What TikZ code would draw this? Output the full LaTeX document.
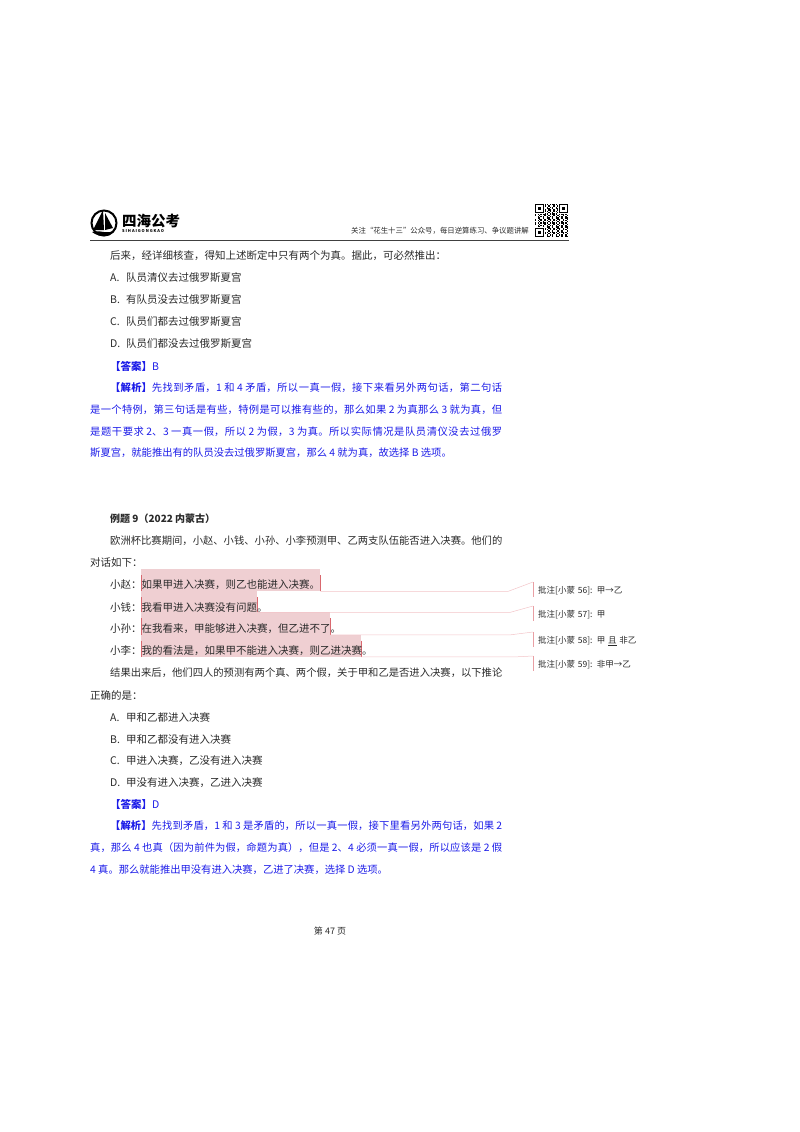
\documentclass[tikz,border=0pt]{standalone}
\usepackage{fontspec}
\usepackage{xcolor}
\setmainfont{Noto Sans CJK SC}
\XeTeXlinebreaklocale "zh"
\XeTeXlinebreakskip=0pt plus 3pt minus 0.4pt
\definecolor{answerblue}{HTML}{1C1CE8}
\definecolor{bodygray}{HTML}{2A2A2A}
\definecolor{markpink}{HTML}{EFCFD2}
\definecolor{markred}{HTML}{D9686F}
\definecolor{leadpink}{HTML}{F3C4C8}
\newcommand{\optlabel}[1]{\makebox[16pt][l]{#1.}}

\begin{document}
\begin{tikzpicture}
		[
			x=1pt,y=-1pt,
			every node/.style={inner sep=0pt,text=bodygray},
			bodyline/.style={anchor=west,yshift=-1pt,font=\fontsize{10.5}{10.5}\selectfont},
			fullline/.style={bodyline,text width=396pt,font=\fontsize{10.32}{10.5}\selectfont},
			answerpar/.style={anchor=north west,text width=412pt,align=justify,text=answerblue,
					font=\fontsize{10.3}{21.8}\selectfont},
			markbox/.style={anchor=north west,fill=markpink,minimum height=#1},
			notebox/.style={anchor=north west,minimum height=15pt,text width=110pt,
					font=\fontsize{8.5}{8.5}\selectfont,text height=8pt,text depth=1pt,xshift=5pt},
			leadline/.style={leadpink,line width=0.5pt},
			endbar/.style={markred,line width=0.6pt}]
		\useasboundingbox (0,0) rectangle (800,1132);

		% header
		\node[circle,draw=black,line width=2pt,minimum size=25pt] (Logo) at (104,223) {};
		\fill[black] (103,210) -- (104,230) -- (93,230) -- cycle;
		\fill[black] (105,213) -- (113,228) -- (105,230) -- cycle;
		\fill[black] (92,232) .. controls (100,229) and (108,236) .. (116,229)
		.. controls (110,238) and (100,238) .. (92,232) -- cycle;
		\node[anchor=west,font=\fontsize{14.5}{14.5}\selectfont\bfseries,text=black] (LogoText) at (122,221) {四海公考};
		\node[anchor=west,font=\fontsize{4}{4}\selectfont\bfseries,text=black] (LogoSub) at (122,231) {S I H A I G O N G K A O};
		\node[anchor=west,font=\fontsize{7.4}{8}\selectfont] (HeadText) at (351,231) {关注“花生十三”公众号，每日逆算练习、争议题讲解};
		\draw[black!75,line width=0.8pt] (90,240) -- (569,240);

		% qr block
		\foreach \i in {0,...,24}
			\foreach \j in {0,...,24}
				{
					\edef\qrsum{\the\numexpr \i*\i*\j+7*\j*\j*\i+3*\i+5*\j+\i*\j\relax}
					\ifnum\numexpr\qrsum-7*(\qrsum/7)\relax<1
						\fill[black] (535+\i*1.32,204+\j*1.32) rectangle ++(1.32,1.32);
					\fi
				}
		\foreach \qx/\qy in {535/204,558.8/204,535/227.8}
			{
				\fill[white] (\qx-0.6,\qy-0.6) rectangle ++(10.4,10.4);
				\draw[black,line width=1.3pt] (\qx+0.6,\qy+0.6) rectangle ++(8,8);
				\fill[black] (\qx+2.8,\qy+2.8) rectangle ++(3.6,3.6);
			}

		% highlighted sentences
		\foreach \name/\w/\y/\h in {A/179/569/22,B/116/591/21,C/189/612/22.5,D/220/634.5/22}
			{
				\node[markbox=\h pt,minimum width=\w pt] (mark\name) at (141,\y) {};
				\draw[endbar] ([yshift=-6pt]mark\name.north west) -- (mark\name.south west);
				\draw[endbar] ([yshift=-6pt]mark\name.north east) -- (mark\name.south east);
			}

		% body lines
		\foreach \x/\y/\t in {
				110/255/{后来，经详细核查，得知上述断定中只有两个为真。据此，可必然推出：},
				110/277/{\optlabel{A}队员清仪去过俄罗斯夏宫},
				110/299/{\optlabel{B}有队员没去过俄罗斯夏宫},
				110/321/{\optlabel{C}队员们都去过俄罗斯夏宫},
				110/343/{\optlabel{D}队员们都没去过俄罗斯夏宫},
				110/518/{\fontsize{10}{10}\selectfont\bfseries 例题 9（2022 内蒙古）},
				90/562/{对话如下：},
				110/584/{小赵：如果甲进入决赛，则乙也能进入决赛。},
				110/606/{小钱：我看甲进入决赛没有问题。},
				110/628/{小孙：在我看来，甲能够进入决赛，但乙进不了。},
				110/650/{小李：我的看法是，如果甲不能进入决赛，则乙进决赛。},
				90/694/{正确的是：},
				110/716/{\optlabel{A}甲和乙都进入决赛},
				110/738/{\optlabel{B}甲和乙都没有进入决赛},
				110/760/{\optlabel{C}甲进入决赛，乙没有进入决赛},
				110/782/{\optlabel{D}甲没有进入决赛，乙进入决赛}}
			{
				\node[bodyline] (line\y) at (\x,\y) {\t};
			}
		\foreach \y/\t in {
				540/{欧洲杯比赛期间，小赵、小钱、小孙、小李预测甲、乙两支队伍能否进入决赛。他们的},
				672/{结果出来后，他们四人的预测有两个真、两个假，关于甲和乙是否进入决赛，以下推论}}
			{
				\node[fullline] (line\y) at (110,\y) {\t};
			}

		% answers
		\node[bodyline,text=answerblue] (AnswerOne) at (110,365) {\textbf{【答案】}B};
		\node[answerpar] (ReasonOne) at (90,382.5) {\hspace*{20pt}\textbf{【解析】}先找到矛盾，1 和 4 矛盾，所以一真一假，接下来看另外两句话，第二句话\linebreak
			是一个特例，第三句话是有些，特例是可以推有些的，那么如果 2 为真那么 3 就为真，但\linebreak
			是题干要求 2、3 一真一假，所以 2 为假，3 为真。所以实际情况是队员清仪没去过俄罗\linebreak
			斯夏宫，就能推出有的队员没去过俄罗斯夏宫，那么 4 就为真，故选择 B 选项。};
		\node[bodyline,text=answerblue] (AnswerTwo) at (110,803) {\textbf{【答案】}D};
		\node[answerpar] (ReasonTwo) at (90,820.5) {\hspace*{20pt}\textbf{【解析】}先找到矛盾，1 和 3 是矛盾的，所以一真一假，接下里看另外两句话，如果 2\linebreak
			真，那么 4 也真（因为前件为假，命题为真），但是 2、4 必须一真一假，所以应该是 2 假\linebreak
			4 真。那么就能推出甲没有进入决赛，乙进了决赛，选择 D 选项。};

		% comments
		\foreach \name/\y/\t in {
				A/582/{批注[小蒙 56]: 甲→乙},
				B/606/{批注[小蒙 57]: 甲},
				C/632/{批注[小蒙 58]: 甲 \underline{且} 非乙},
				D/656/{批注[小蒙 59]: 非甲→乙}}
			{
				\node[notebox] (note\name) at (533,\y) {\t};
			}
		\foreach \name/\bx/\cy in {A/508/582,B/510/606,C/510/632,D/515/656}
			{
				\coordinate (bend\name) at (mark\name.south east -| \bx,0);
				\draw[leadline] (mark\name.south east) -- (bend\name) -- (533,\cy);
				\draw[endbar,leadpink!60!markred] ([xshift=-5pt]note\name.north west) -- ([xshift=-5pt]note\name.south west);
			}

		\node[anchor=center,font=\fontsize{9}{9}\selectfont] (PageNo) at (330,931) {第 47 页};
	\end{tikzpicture}
\end{document}
